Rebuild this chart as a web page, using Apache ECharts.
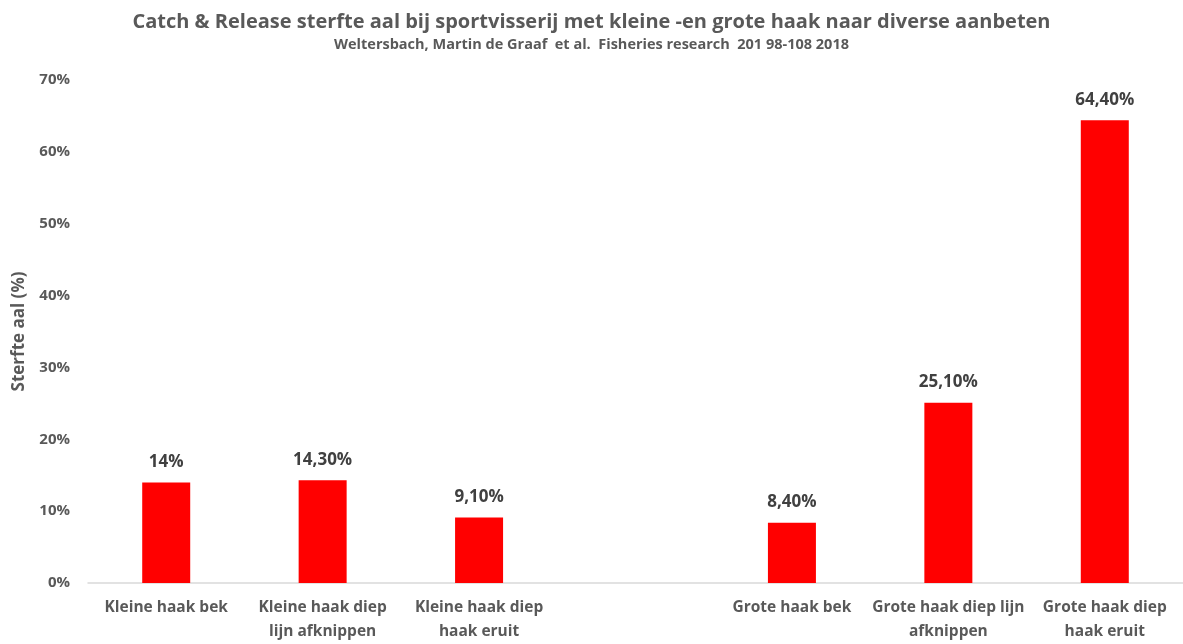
<!DOCTYPE html>
<html>
<head>
<meta charset="utf-8">
<script src="https://cdn.jsdelivr.net/npm/echarts@6/dist/echarts.min.js"></script>
<style>
  html, body { margin: 0; padding: 0; background: #fff; overflow: hidden; }
  #chart { width: 1183px; height: 644px; }
</style>
</head>
<body>
<div id="chart"></div>
<script>
// Mortality per hook size and handling method; the empty category separates small from large hooks
const categories = [
  'Kleine haak bek',
  'Kleine haak diep\nlijn afknippen',
  'Kleine haak diep\nhaak eruit',
  '',
  'Grote haak bek',
  'Grote haak diep lijn\nafknippen',
  'Grote haak diep\nhaak eruit'
];
const mortality = [14, 14.3, 9.1, null, 8.4, 25.1, 64.4];
const yTicks = [0, 10, 20, 30, 40, 50, 60, 70];

const FONT = '"Open Sans"';
const GREY = '#595959';

function pct(v) {
  return Number.isInteger(v) ? v + '%' : v.toFixed(2).replace('.', ',') + '%';
}

const chart = echarts.init(document.getElementById('chart'));
chart.setOption({
  animation: false,
  textStyle: { fontFamily: FONT },
  title: {
    text: 'Catch & Release sterfte aal bij sportvisserij met kleine -en grote haak naar diverse aanbeten',
    subtext: 'Weltersbach, Martin de Graaf  et al.  Fisheries research  201 98-108 2018',
    left: 'center',
    top: 7,
    itemGap: 5,
    textStyle: { fontFamily: FONT, fontSize: 20, fontWeight: 'bold', color: GREY },
    subtextStyle: { fontFamily: FONT, fontSize: 14.5, fontWeight: 'bold', color: GREY }
  },
  grid: { left: 88, width: 1102, top: 80, bottom: 55 },
  xAxis: {
    type: 'category',
    data: categories,
    axisLine: { lineStyle: { color: '#d9d9d9', width: 1.5 } },
    axisTick: { show: false },
    axisLabel: {
      interval: 0,
      margin: 13,
      fontFamily: FONT,
      fontSize: 15.5,
      fontWeight: 'bold',
      color: GREY,
      lineHeight: 24
    }
  },
  yAxis: {
    type: 'value',
    min: yTicks[0],
    max: yTicks[yTicks.length - 1],
    interval: 10,
    name: 'Sterfte aal (%)',
    nameLocation: 'middle',
    nameGap: 60,
    nameTextStyle: { fontFamily: FONT, fontSize: 17, fontWeight: 'bold', color: GREY },
    splitLine: { show: false },
    axisLine: { show: false },
    axisTick: { show: false },
    axisLabel: {
      margin: 18,
      fontFamily: FONT,
      fontSize: 15,
      fontWeight: 'bold',
      color: GREY,
      formatter: v => v + '%'
    }
  },
  series: [{
    type: 'bar',
    data: mortality,
    barWidth: 48,
    itemStyle: { color: '#ff0000' },
    label: {
      show: true,
      position: 'top',
      distance: 12,
      fontFamily: FONT,
      fontSize: 17,
      fontWeight: 'bold',
      color: '#404040',
      formatter: p => pct(p.value)
    }
  }]
});
</script>
</body>
</html>
